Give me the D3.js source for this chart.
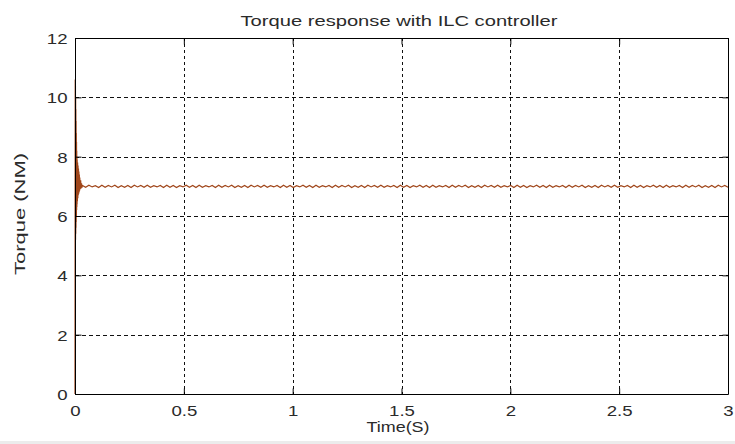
<!DOCTYPE html>
<html>
<head>
<meta charset="utf-8">
<script src="https://cdn.jsdelivr.net/npm/d3@7"></script>
<style>
  html, body { margin: 0; padding: 0; background: #fff; }
  svg { display: block; font-family: "Liberation Sans", Arial, sans-serif; }
</style>
</head>
<body>
<svg id="chart" width="735" height="444"></svg>
<script>
// ---- data ----
const title = "Torque response with ILC controller";
const xLabel = "Time(S)";
const yLabel = "Torque  (NM)";
const xTicks = [0, 0.5, 1, 1.5, 2, 2.5, 3];
const xTickLabels = ["0", "0.5", "1", "1.5", "2", "2.5", "3"];
const yTicks = [0, 2, 4, 6, 8, 10, 12];
const yTickLabels = ["0", "2", "4", "6", "8", "10", "12"];

// start-up transient (time in s, torque in N·m)
const transientTime = [0, 0.001, 0.0015, 0.002, 0.0025, 0.003, 0.0035, 0.004, 0.0045, 0.005, 0.0055,
  0.006, 0.0065, 0.007, 0.0075, 0.008, 0.0085, 0.009, 0.0095, 0.010, 0.011, 0.012, 0.013, 0.014,
  0.015, 0.016, 0.017, 0.018, 0.019, 0.020, 0.021, 0.022, 0.024, 0.026, 0.028, 0.030, 0.032];
const transientTorque = [0, 10.6, 5.1, 10.4, 5.2, 10.0, 5.4, 9.6, 5.6, 9.2, 5.8,
  8.8, 6.0, 8.5, 6.2, 8.2, 6.3, 8.0, 6.4, 7.9, 6.5, 7.8, 6.6, 7.7,
  6.7, 7.6, 6.75, 7.5, 6.8, 7.4, 6.85, 7.3, 6.9, 7.2, 6.93, 7.1, 6.96];

// steady-state ripple from 0.034 s to 3 s
const rippleStart = 0.034, rippleEnd = 3.0;
const rippleTorque = [
  7.03,6.97,7.04,6.98,7.02,6.96,7.04,6.97,7.03,6.98,7.04,6.96,7.02,6.97,7.03,6.96,7.04,6.98,7.03,6.97,
  7.04,6.97,7.02,6.98,7.03,6.96,7.04,6.97,7.03,6.96,7.02,6.98,7.04,6.97,7.03,6.96,7.04,6.97,7.02,6.98,
  7.03,6.96,7.04,6.97,7.03,6.98,7.04,6.96,7.02,6.97,7.03,6.96,7.04,6.98,7.03,6.97,7.04,6.97,7.02,6.98,
  7.03,6.96,7.04,6.97,7.03,6.96,7.02,6.98,7.04,6.97,7.03,6.96,7.04,6.97,7.02,6.98,7.03,6.96,7.04,6.97,
  7.03,6.98,7.04,6.96,7.02,6.97,7.03,6.96,7.04,6.98,7.03,6.97,7.04,6.97,7.02,6.98,7.03,6.96,7.04,6.97,
  7.03,6.96,7.02,6.98,7.04,6.97,7.03,6.96,7.04,6.97,7.02,6.98,7.03,6.96,7.04,6.97,7.03,6.98,7.04,6.96,
  7.02,6.97,7.03,6.96,7.04,6.98,7.03,6.97,7.04,6.97,7.02,6.98,7.03,6.96,7.04,6.97,7.03,6.96,7.02,6.98,
  7.04,6.97,7.03,6.96,7.04,6.97,7.02,6.98,7.03,6.96,7.04,6.97,7.03,6.98,7.04,6.96,7.02,6.97,7.03,6.96,
  7.04,6.98,7.03,6.97,7.04,6.97,7.02,6.98,7.03,6.96,7.04,6.97,7.03,6.96,7.02,6.98,7.04,6.97,7.03,6.96,
  7.04,6.97,7.02,6.98,7.03,6.96,7.04,6.97,7.03,6.98,7.04,6.96,7.02,6.97,7.03,6.96,7.04,6.98,7.03,6.97];

// ---- layout ----
const W = 735, H = 444;
const L = 75, T = 38, R = 728, B = 394;
const svg = d3.select("#chart");
const textColor = "#2a2a2a";

const x = d3.scaleLinear().domain([0, 3]).range([L, R]);
const y = d3.scaleLinear().domain([0, 12]).range([B, T]);

svg.append("rect").attr("x", 0).attr("y", 0).attr("width", W).attr("height", H).attr("fill", "#fff");
svg.append("rect").attr("x", 0).attr("y", 441).attr("width", W).attr("height", 3).attr("fill", "#ececec");

// grid
const grid = svg.append("g");
grid.selectAll(".vg").data(xTicks.slice(1, -1)).enter().append("line")
  .attr("x1", d => Math.round(x(d)) + 0.5).attr("x2", d => Math.round(x(d)) + 0.5)
  .attr("y1", T).attr("y2", B)
  .attr("stroke", "#111").attr("stroke-width", 1).attr("stroke-dasharray", "3,3");
grid.selectAll(".hg").data(yTicks.slice(1, -1)).enter().append("line")
  .attr("y1", d => Math.round(y(d)) + 0.5).attr("y2", d => Math.round(y(d)) + 0.5)
  .attr("x1", L).attr("x2", R)
  .attr("stroke", "#111").attr("stroke-width", 1).attr("stroke-dasharray", "4,3");

// data line
const pts = transientTime.map((t, i) => [t, transientTorque[i]]);
const n = rippleTorque.length;
rippleTorque.forEach((v, i) => pts.push([rippleStart + i * (rippleEnd - rippleStart) / (n - 1), v]));
const line = d3.line().x(d => x(d[0])).y(d => y(d[1]));
svg.append("path").datum(pts).attr("d", line)
  .attr("fill", "none").attr("stroke", "#a0461a").attr("stroke-width", 1.2);

// axes (MATLAB style: inward ticks on all sides, box)
const tickLen = 6;
const axB = d3.axisBottom(x).tickValues(xTicks).tickSize(-tickLen).tickPadding(10)
  .tickFormat((d, i) => xTickLabels[i]);
const axT = d3.axisTop(x).tickValues(xTicks).tickSize(-tickLen).tickFormat("");
const axLf = d3.axisLeft(y).tickValues(yTicks).tickSize(-tickLen).tickPadding(8)
  .tickFormat((d, i) => yTickLabels[i]);
const axRt = d3.axisRight(y).tickValues(yTicks).tickSize(-tickLen).tickFormat("");

function style(g) {
  g.select(".domain").attr("stroke", "#000").attr("stroke-width", 1);
  g.selectAll(".tick line").attr("stroke", "#000");
  g.selectAll("text").attr("fill", textColor).attr("font-size", 15.5)
    .attr("font-family", "'Liberation Sans', Arial, sans-serif");
}
const gB = svg.append("g").attr("transform", `translate(0,${B + 0.5})`).call(axB).call(style);
gB.select(".domain").attr("d", `M${L},0H${R}`);
const gT = svg.append("g").attr("transform", `translate(0,${T + 0.5})`).call(axT).call(style);
gT.select(".domain").attr("d", `M${L},0H${R}`);
const gL = svg.append("g").attr("transform", `translate(${L + 0.5},0)`).call(axLf).call(style);
gL.select(".domain").attr("d", `M0,${T}V${B}`);
const gR = svg.append("g").attr("transform", `translate(${R + 0.5},0)`).call(axRt).call(style);
gR.select(".domain").attr("d", `M0,${T}V${B}`);

// widen tick labels (reference text is letter-spaced)
svg.selectAll(".tick text").each(function() {
  const w = this.getComputedTextLength();
  d3.select(this).attr("textLength", w * 1.2).attr("lengthAdjust", "spacingAndGlyphs");
});
gB.selectAll(".tick text").attr("dy", null).attr("y", 0).attr("transform", "translate(0,21)");
gL.selectAll(".tick text").attr("dy", "0.36em");

// title and labels
svg.append("text").attr("x", 399).attr("y", 26).attr("text-anchor", "middle")
  .attr("font-size", 14.5).attr("fill", textColor)
  .attr("textLength", 317).attr("lengthAdjust", "spacingAndGlyphs").text(title);
svg.append("text").attr("x", 398).attr("y", 432).attr("text-anchor", "middle")
  .attr("font-size", 14.5).attr("fill", textColor)
  .attr("textLength", 63).attr("lengthAdjust", "spacingAndGlyphs").text(xLabel);
svg.append("text").attr("transform", "translate(25,214) rotate(-90)").attr("text-anchor", "middle")
  .attr("font-size", 14).attr("fill", textColor)
  .attr("textLength", 122).attr("lengthAdjust", "spacingAndGlyphs").text(yLabel);
</script>
</body>
</html>
